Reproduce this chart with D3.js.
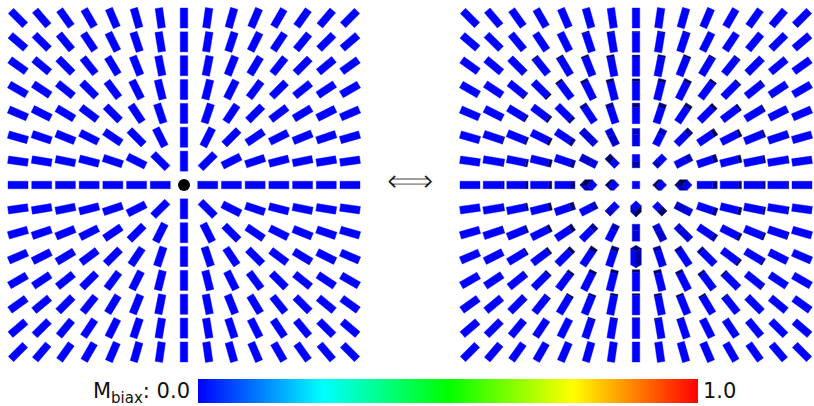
<!DOCTYPE html>
<html>
<head>
<meta charset="utf-8">
<script src="https://cdn.jsdelivr.net/npm/d3@7"></script>
<style>
  body { margin: 0; background: #fff; }
  text { font-family: "DejaVu Sans", sans-serif; fill: #111; }
</style>
</head>
<body>
<svg id="chart" width="814" height="406"></svg>
<script>
// lattice cells along x and y (same for both panels)
var gridIdx = [-7, -6, -5, -4, -3, -2, -1, 0, 1, 2, 3, 4, 5, 6, 7];

// right panel: out-of-plane tilt of each rod, degrees
// rows go from y=-7 (top) to y=7 (bottom), columns from x=-7 to x=7
// (+) outer end toward the viewer, (-) inner end toward the viewer
var rightTilt = [
  [0, 0, 0, 0, 0, 0, 0, 0, 0, 0, 0, 0, 0, 0, 0],
  [0, 0, 0, 0, 0, 8, 8, 8, 8, 8, 0, 0, 0, 0, 0],
  [0, 0, -5, 10, 14, 16, 16, 14, 16, 16, 14, 10, 5, 0, 0],
  [0, 0, -10, -15, 20, 24, 26, 22, 26, 24, 20, 15, 10, 0, 0],
  [0, 0, -14, -20, -28, 34, 38, 36, 38, 34, 28, 20, 14, 0, 0],
  [0, -8, -16, -24, -34, -45, 55, 55, 55, 45, 34, 24, 16, 8, 0],
  [0, -10, -16, -26, -38, -55, -72, 72, 72, 55, 38, 26, 16, 10, 0],
  [0, -10, -16, -24, -40, -68, -80, 90, 80, 68, 40, 24, 16, 10, 0],
  [0, -10, -16, -26, -38, -55, -72, -72, -72, 55, 38, 26, 16, 10, 0],
  [0, -8, -16, -24, -34, -45, -55, -58, -55, -45, 34, 24, 16, 8, 0],
  [0, 0, -14, -20, -28, -34, -38, -36, -38, -34, -28, 20, 14, 0, 0],
  [0, 0, -10, -15, -20, -24, -26, -22, -26, -24, -20, -15, 10, 0, 0],
  [0, 0, -5, -10, -14, -16, -16, -14, -16, -16, -14, -10, -5, 0, 0],
  [0, 0, 0, 0, 0, -8, -8, -8, -8, -8, 0, 0, 0, 0, 0],
  [0, 0, 0, 0, 0, 0, 0, 0, 0, 0, 0, 0, 0, 0, 0]
];

// rods rotated about their own axis near the core: [x, y, degrees]
var rightTwist = [[-2, 0, 45], [-1, 0, 45], [1, 0, 45], [2, 0, 45], [0, 1, 45], [0, 3, 45]];

// biaxiality of each panel (all rods are at the bottom of the scale)
var panelBiax = [0.0, 0.0];

// colour bar
var cbStops = ["#0000ff", "#00ffff", "#00ff00", "#ffff00", "#ff0000"];
var cbLabels = ["0.0", "1.0"];

var svg = d3.select("#chart");
var ROD_L = 20, ROD_W = 7.5;

var ys = d3.scaleLinear().domain([-7, 7]).range([18, 352]);
var xsLeft = d3.scaleLinear().domain([-7, 7]).range([18, 350]);
var xsRight = d3.scaleLinear().domain([-7, 7]).range([470, 802]);

var biaxColor = d3.scaleLinear()
  .domain(cbStops.map(function (c, i) { return i / (cbStops.length - 1); }))
  .range(cbStops);

// light mostly from the front, a little from the lower left
var LIGHT = [-0.25, 0.25, 1];

function add(a, b) { return [a[0] + b[0], a[1] + b[1], a[2] + b[2]]; }
function mul(a, k) { return [a[0] * k, a[1] * k, a[2] * k]; }
function dot(a, b) { return a[0] * b[0] + a[1] * b[1] + a[2] * b[2]; }

// visible faces of a box-shaped rod, seen straight down the z axis
function rodFaces(dx, dy, tiltDeg, twistDeg) {
  var phi = Math.atan2(dy, dx);
  var be = tiltDeg * Math.PI / 180, ps = twistDeg * Math.PI / 180;
  var n = [Math.cos(be) * Math.cos(phi), Math.cos(be) * Math.sin(phi), Math.sin(be)];
  var t = [-Math.sin(phi), Math.cos(phi), 0];
  var s = [-Math.sin(be) * Math.cos(phi), -Math.sin(be) * Math.sin(phi), Math.cos(be)];
  var b = add(mul(t, Math.cos(ps)), mul(s, Math.sin(ps)));
  var e = add(mul(t, -Math.sin(ps)), mul(s, Math.cos(ps)));
  var axes = [[n, ROD_L / 2], [b, ROD_W / 2], [e, ROD_W / 2]];
  var faces = [];
  for (var i = 0; i < 3; i++) {
    [1, -1].forEach(function (sg) {
      var A = axes[i], B = axes[(i + 1) % 3], C = axes[(i + 2) % 3];
      if (sg * A[0][2] <= 1e-6) return;
      var c0 = mul(A[0], sg * A[1]), hb = mul(B[0], B[1]), hc = mul(C[0], C[1]);
      var pts = [add(add(c0, hb), hc), add(add(c0, hb), mul(hc, -1)),
                 add(add(c0, mul(hb, -1)), mul(hc, -1)), add(add(c0, mul(hb, -1)), hc)];
      faces.push({ pts: pts.map(function (p) { return [p[0], p[1]]; }), normal: mul(A[0], sg) });
    });
  }
  return faces;
}

function shade(base, normal) {
  var k = dot(normal, LIGHT);
  var br = Math.max(0.35, Math.min(1, 0.35 + 0.65 * (k - 0.25) / 0.6));
  var c = d3.rgb(base);
  return d3.rgb(c.r * br, c.g * br, c.b * br).formatHex();
}

function drawPanel(xs, tilt, twist, biax, defect) {
  var cells = [];
  gridIdx.forEach(function (gy, r) {
    gridIdx.forEach(function (gx, c) {
      if (defect && gx === 0 && gy === 0) return;
      var tw = twist.filter(function (d) { return d[0] === gx && d[1] === gy; });
      cells.push({ gx: gx, gy: gy, tilt: tilt ? tilt[r][c] : 0, twist: tw.length ? tw[0][2] : 0 });
    });
  });
  var base = biaxColor(biax);
  var rods = svg.append("g").selectAll("g")
    .data(cells)
    .enter().append("g")
    .attr("transform", function (d) { return "translate(" + xs(d.gx) + "," + ys(d.gy) + ")"; });

  rods.selectAll("path")
    .data(function (d) { return rodFaces(d.gx, d.gy, d.tilt, d.twist); })
    .enter().append("path")
    .attr("d", function (f) { return "M" + f.pts.map(function (p) { return p[0].toFixed(2) + "," + p[1].toFixed(2); }).join("L") + "Z"; })
    .attr("fill", function (f) { return shade(base, f.normal); })
    .attr("stroke", function (f) { return shade(base, f.normal); })
    .attr("stroke-width", 0.4)
    .attr("stroke-linejoin", "round");

  if (defect) {
    svg.append("circle")
      .attr("cx", xs(0)).attr("cy", ys(0)).attr("r", 6)
      .attr("fill", "#000");
  }
}

drawPanel(xsLeft, null, [], panelBiax[0], true);
drawPanel(xsRight, rightTilt, rightTwist, panelBiax[1], false);

// equivalence arrow between the two panels (white outline thins the glyph)
svg.append("text")
  .attr("x", 410).attr("y", 192)
  .attr("text-anchor", "middle")
  .style("font-size", "33px")
  .style("stroke", "#fff")
  .style("stroke-width", "0.9px")
  .text("\u27FA");

// colour bar
var grad = svg.append("defs").append("linearGradient")
  .attr("id", "cbGrad").attr("x1", "0%").attr("x2", "100%");
grad.selectAll("stop")
  .data(cbStops)
  .enter().append("stop")
  .attr("offset", function (d, i) { return (100 * i / (cbStops.length - 1)) + "%"; })
  .attr("stop-color", function (d) { return d; });

var cbX = d3.scaleLinear().domain([0, 1]).range([198, 698]);
svg.append("rect")
  .attr("x", cbX(0)).attr("y", 379)
  .attr("width", cbX(1) - cbX(0)).attr("height", 24)
  .attr("fill", "url(#cbGrad)");

var lab = svg.append("text")
  .attr("x", cbX(0) - 8).attr("y", 398)
  .attr("text-anchor", "end")
  .style("font-size", "21px");
lab.append("tspan").text("M");
lab.append("tspan").attr("dy", 5).style("font-size", "15px").text("biax");
lab.append("tspan").attr("dy", -5).text(": " + cbLabels[0]);

svg.append("text")
  .attr("x", cbX(1) + 5).attr("y", 398)
  .style("font-size", "21px")
  .text(cbLabels[1]);
</script>
</body>
</html>
